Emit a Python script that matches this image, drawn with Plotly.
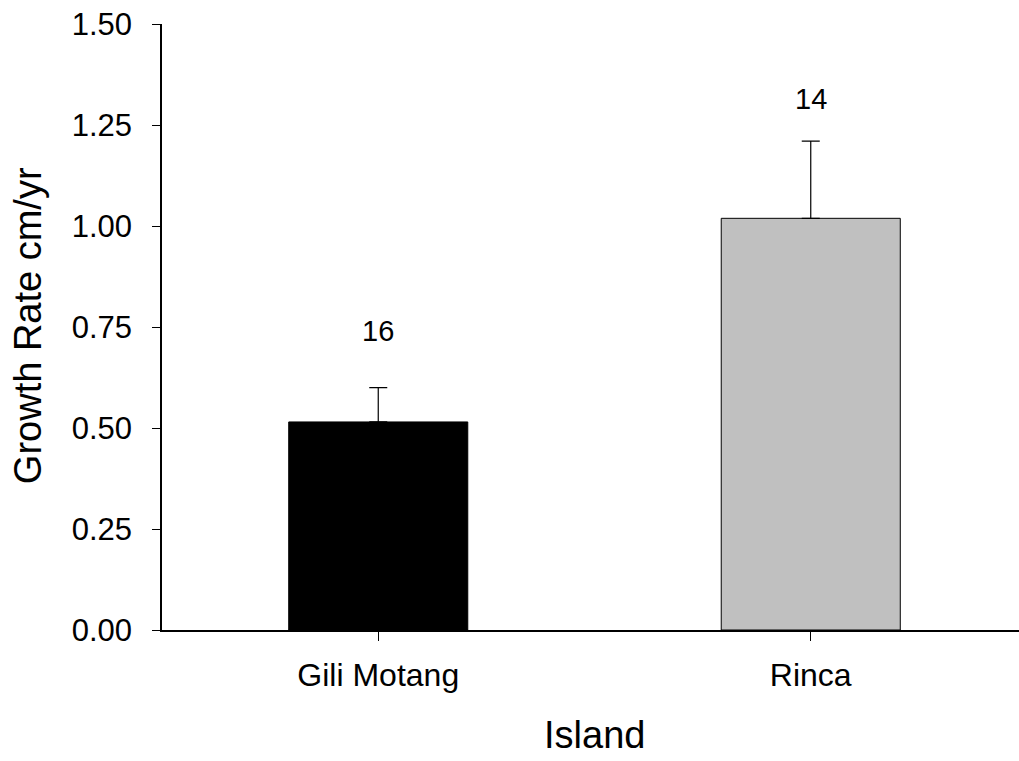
import plotly.graph_objects as go

islands = ["Gili Motang", "Rinca"]
growth_rate = [0.515, 1.019]
std_error = [0.085, 0.191]
sample_n = ["16", "14"]
label_heights = [0.74, 1.315]
bar_colors = ["#000000", "#c0c0c0"]
y_ticks = [0.0, 0.25, 0.5, 0.75, 1.0, 1.25, 1.5]
y_tick_text = ["0.00", "0.25", "0.50", "0.75", "1.00", "1.25", "1.50"]

FONT = "Liberation Sans, Arial, sans-serif"

fig = go.Figure()
fig.add_trace(go.Bar(
    x=[0, 1], y=growth_rate, width=0.414,
    marker=dict(color=bar_colors, line=dict(color="#000000", width=1)),
    error_y=dict(type="data", array=std_error, arrayminus=[0, 0], symmetric=False,
                 color="#000000", thickness=1.2, width=9),
    showlegend=False,
))

for i, (txt, yy) in enumerate(zip(sample_n, label_heights)):
    fig.add_annotation(x=i, y=yy, text=txt, showarrow=False,
                       font=dict(family=FONT, size=29, color="#000000"),
                       xanchor="center", yanchor="middle")

# axis titles
fig.add_annotation(xref="paper", yref="paper", x=-0.1564, y=0.503, text="Growth Rate cm/yr",
                   textangle=-90, showarrow=False, xanchor="center", yanchor="middle",
                   font=dict(family=FONT, size=38, color="#000000"))
fig.add_annotation(xref="paper", yref="paper", x=0.505, y=-0.173, text="Island",
                   showarrow=False, xanchor="center", yanchor="middle",
                   font=dict(family=FONT, size=38, color="#000000"))

fig.update_layout(
    width=1019, height=761,
    margin=dict(l=162, r=0, t=24, b=131, autoexpand=False),
    paper_bgcolor="white", plot_bgcolor="white",
    font=dict(family=FONT, color="#000000"),
    xaxis=dict(
        range=[-0.5, 1.4815], tickmode="array", tickvals=[0, 1], ticktext=islands,
        showline=True, linecolor="#000000", linewidth=2,
        ticks="outside", ticklen=9, tickwidth=1.2, tickcolor="#000000",
        showgrid=False, zeroline=False, automargin=False,
        tickfont=dict(family=FONT, size=32, color="#000000"),
        ticklabelstandoff=7,
    ),
    yaxis=dict(
        range=[0, 1.5], tickmode="array", tickvals=y_ticks, ticktext=y_tick_text,
        showline=True, linecolor="#000000", linewidth=1.5,
        ticks="outside", ticklen=8, tickwidth=1.2, tickcolor="#000000",
        showgrid=False, zeroline=False, automargin=False,
        tickfont=dict(family=FONT, size=31, color="#000000"),
        ticklabelstandoff=14,
    ),
)

fig.write_html("out.html", config={"displayModeBar": False},
               post_script="document.body.style.margin='0px';document.body.style.overflow='hidden';")
